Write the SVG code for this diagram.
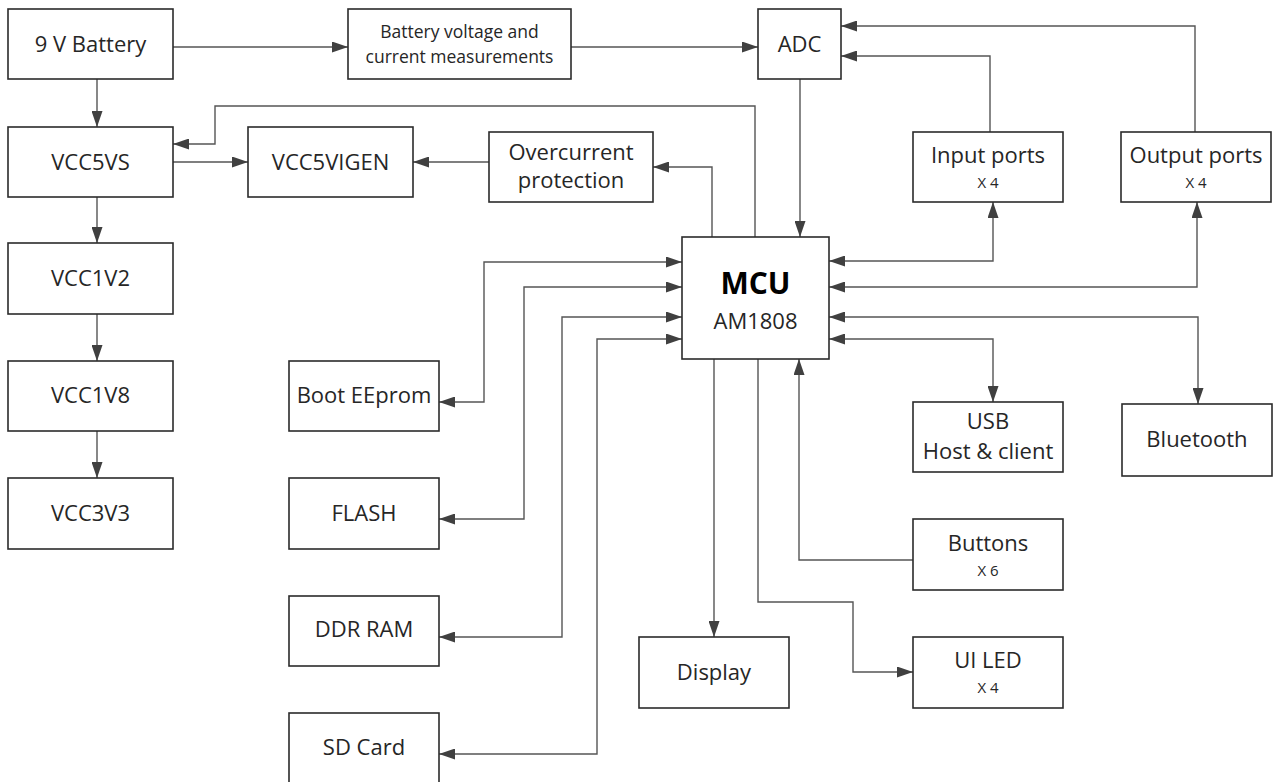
<svg xmlns="http://www.w3.org/2000/svg" width="1273" height="782" viewBox="0 0 1273 782">
<style>
.box{fill:#fff;stroke:#2b2b2b;stroke-width:1.6}
.t{font-family:"Open Sans","Noto Sans",sans-serif;font-size:22px;fill:#262626;text-anchor:middle}
.s{font-size:17.5px}
.x{font-size:15px}
.b{font-weight:bold;font-size:30px;fill:#000}
.c{fill:none;stroke:#555;stroke-width:1.4}
.e{marker-end:url(#ah)}
.se{marker-start:url(#ah);marker-end:url(#ah)}
</style>
<defs>
<marker id="ah" markerUnits="userSpaceOnUse" markerWidth="16" markerHeight="11" refX="16" refY="5.5" orient="auto-start-reverse">
<path d="M0,0 L16,5.5 L0,11 z" fill="#404040"/>
</marker>
</defs>
<rect width="1273" height="782" fill="#fff"/>
<g id="connectors">
<path class="c e" d="M173,47 H348"/>
<path class="c e" d="M571,47 H758"/>
<path class="c e" d="M97,79 V127"/>
<path class="c e" d="M97,197 V243"/>
<path class="c e" d="M97,314 V361"/>
<path class="c e" d="M97,431 V478"/>
<path class="c e" d="M173,162 H248"/>
<path class="c e" d="M489,162 H413"/>
<path class="c e" d="M712,237 V167 H653"/>
<path class="c e" d="M755,237 V106 H215 V144 H173"/>
<path class="c e" d="M800,79 V237"/>
<path class="c e" d="M990,132 V56 H841"/>
<path class="c e" d="M1195,132 V26 H841"/>
<path class="c se" d="M829,261 H993 V202"/>
<path class="c se" d="M829,287 H1197 V202"/>
<path class="c se" d="M829,317 H1198 V404"/>
<path class="c se" d="M829,339 H993 V402"/>
<path class="c se" d="M682,262 H484 V402 H439"/>
<path class="c se" d="M682,287 H524 V519 H439"/>
<path class="c se" d="M682,317 H562 V637 H439"/>
<path class="c se" d="M682,339 H597 V754 H439"/>
<path class="c e" d="M714,359 V637"/>
<path class="c e" d="M758,359 V602 H853 V672 H913"/>
<path class="c e" d="M913,560 H799 V359"/>
</g>
<g id="battery"><rect class="box" x="8" y="9" width="165" height="70"/><text class="t" x="90.5" y="52">9 V Battery</text></g>
<g id="battmeas"><rect class="box" x="348" y="9" width="223" height="70"/><text class="t s" x="459.5" y="38">Battery voltage and</text><text class="t s" x="459.5" y="63">current measurements</text></g>
<g id="adc"><rect class="box" x="758" y="9" width="83" height="70"/><text class="t" x="799.5" y="52">ADC</text></g>
<g id="vcc5vs"><rect class="box" x="8" y="127" width="165" height="70"/><text class="t" x="90.5" y="170">VCC5VS</text></g>
<g id="vcc5vigen"><rect class="box" x="248" y="127" width="165" height="70"/><text class="t" x="330.5" y="170">VCC5VIGEN</text></g>
<g id="overcurrent"><rect class="box" x="489" y="132" width="164" height="70"/><text class="t" x="571" y="160">Overcurrent</text><text class="t" x="571" y="188">protection</text></g>
<g id="inputports"><rect class="box" x="913" y="132" width="150" height="70"/><text class="t" x="988" y="163">Input ports</text><text class="t x" x="988" y="188">X 4</text></g>
<g id="outputports"><rect class="box" x="1121" y="132" width="150" height="70"/><text class="t" x="1196" y="163">Output ports</text><text class="t x" x="1196" y="188">X 4</text></g>
<g id="mcu"><rect class="box" x="682" y="237" width="147" height="122"/><text class="t b" x="755.5" y="294">MCU</text><text class="t" x="755.5" y="329">AM1808</text></g>
<g id="vcc1v2"><rect class="box" x="8" y="243" width="165" height="71"/><text class="t" x="90.5" y="286">VCC1V2</text></g>
<g id="vcc1v8"><rect class="box" x="8" y="361" width="165" height="70"/><text class="t" x="90.5" y="403">VCC1V8</text></g>
<g id="vcc3v3"><rect class="box" x="8" y="478" width="165" height="71"/><text class="t" x="90.5" y="521">VCC3V3</text></g>
<g id="booteeprom"><rect class="box" x="289" y="361" width="150" height="70"/><text class="t" x="364" y="403">Boot EEprom</text></g>
<g id="flash"><rect class="box" x="289" y="478" width="150" height="71"/><text class="t" x="364" y="521">FLASH</text></g>
<g id="ddrram"><rect class="box" x="289" y="596" width="150" height="70"/><text class="t" x="364" y="637">DDR RAM</text></g>
<g id="sdcard"><rect class="box" x="289" y="713" width="150" height="75"/><text class="t" x="364" y="755">SD Card</text></g>
<g id="usb"><rect class="box" x="913" y="402" width="150" height="70"/><text class="t" x="988" y="429">USB</text><text class="t" x="988" y="459">Host &amp; client</text></g>
<g id="bluetooth"><rect class="box" x="1122" y="404" width="150" height="72"/><text class="t" x="1197" y="447">Bluetooth</text></g>
<g id="buttons"><rect class="box" x="913" y="519" width="150" height="71"/><text class="t" x="988" y="551">Buttons</text><text class="t x" x="988" y="576">X 6</text></g>
<g id="display"><rect class="box" x="639" y="637" width="150" height="71"/><text class="t" x="714" y="680">Display</text></g>
<g id="uiled"><rect class="box" x="913" y="637" width="150" height="71"/><text class="t" x="988" y="668">UI LED</text><text class="t x" x="988" y="693">X 4</text></g>
</svg>
